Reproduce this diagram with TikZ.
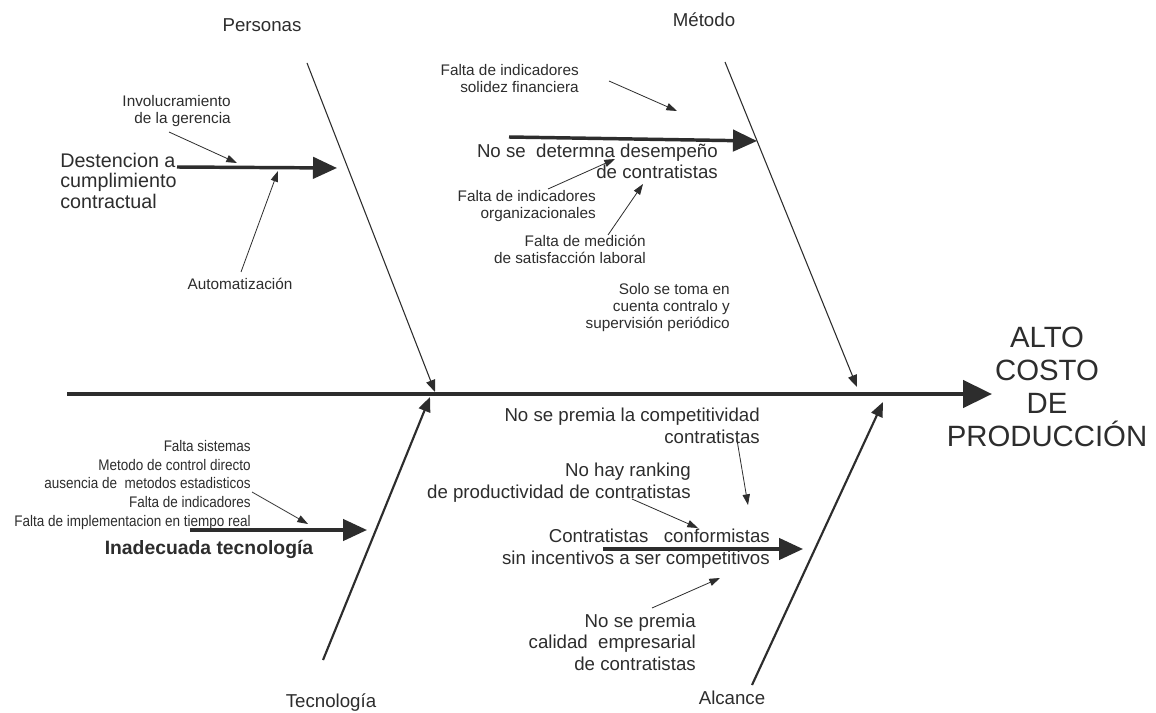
\documentclass[tikz,border=0pt]{standalone}
\usepackage{fontspec}
\setmainfont{Liberation Sans}
\newfontfamily\narrowfont[FakeStretch=0.88]{Liberation Sans}
\usetikzlibrary{arrows.meta}
\definecolor{ink}{RGB}{45,45,45}
\begin{document}
\begin{tikzpicture}[x=0.75pt,y=-0.75pt,
  lbl/.style={text=ink,inner sep=0pt},
  small/.style={lbl,font=\fontsize{11.5}{12.75}\selectfont},
  big/.style={lbl,font=\fontsize{14.8}{15.75}\selectfont},
  mid/.style={lbl,font=\fontsize{14}{16}\selectfont},
  head/.style={lbl,font=\fontsize{14}{16}\selectfont},
  narrowlbl/.style={lbl,font=\narrowfont\fontsize{11.5}{13.9}\selectfont},
  boldlbl/.style={lbl,font=\bfseries\fontsize{14.5}{16}\selectfont},
  titlelbl/.style={lbl,font=\fontsize{22}{24.75}\selectfont},
  rlines/.style={anchor=base east,align=right},
  spine/.style={draw=ink,line width=3.4pt,-{Triangle[length=21.75pt,width=20.25pt]}},
  subbone/.style={draw=ink,line width=2.6pt,-{Triangle[length=18pt,width=16pt]}},
  bonethin/.style={draw=ink,line width=0.8pt,-{Triangle[length=9pt,width=7pt]}},
  bonethick/.style={draw=ink,line width=1.6pt,-{Triangle[length=11pt,width=9pt]}},
  smallarrow/.style={draw=ink,line width=0.6pt,-{Triangle[length=8pt,width=5.5pt]}}
]
\useasboundingbox[fill=white] (0,0) rectangle (1156,713);

% coordinates of the skeleton
\coordinate (spS) at (67,394);   \coordinate (spE) at (992,394);
\coordinate (perA) at (307,63);  \coordinate (perB) at (435,392);
\coordinate (metA) at (725,62);  \coordinate (metB) at (857,387);
\coordinate (tecA) at (323,660); \coordinate (tecB) at (430,397);
\coordinate (alcA) at (752,685); \coordinate (alcB) at (883,402);
\coordinate (p1a) at (177,167);  \coordinate (p1b) at (337,168);
\coordinate (m1a) at (509,137);  \coordinate (m1b) at (757,141);
\coordinate (t1a) at (190,530);  \coordinate (t1b) at (367,530);
\coordinate (a1a) at (603,549);  \coordinate (a1b) at (803,549);
\coordinate (s1a) at (169,132);  \coordinate (s1b) at (237,163);
\coordinate (s2a) at (241,272);  \coordinate (s2b) at (278,171);
\coordinate (s3a) at (609,81);   \coordinate (s3b) at (677,111);
\coordinate (s4a) at (548,189);  \coordinate (s4b) at (615,159);
\coordinate (s5a) at (608,235);  \coordinate (s5b) at (643,184);
\coordinate (s6a) at (252,492);  \coordinate (s6b) at (308,524);
\coordinate (s7a) at (737,440);  \coordinate (s7b) at (748,505);
\coordinate (s8a) at (632,499);  \coordinate (s8b) at (698,528);
\coordinate (s9a) at (652,608);  \coordinate (s9b) at (720,578);

% bones
\draw[spine] (spS) -- (spE);
\draw[bonethin] (perA) -- (perB);
\draw[bonethin] (metA) -- (metB);
\draw[bonethick] (tecA) -- (tecB);
\draw[bonethick] (alcA) -- (alcB);
\draw[subbone] (p1a) -- (p1b);
\draw[subbone] (m1a) -- (m1b);
\draw[subbone] (t1a) -- (t1b);
\draw[subbone] (a1a) -- (a1b);
\foreach \i in {1,...,9} \draw[smallarrow] (s\i a) -- (s\i b);

% labels (base anchors of multi-line nodes sit on the last line)
\node[head,anchor=base] (personas) at (262,32) {Personas};
\node[head,anchor=base] (metodo) at (704,27) {Método};
\node[head,anchor=base] (tecno) at (331,707) {Tecnología};
\node[head,anchor=base] (alcance) at (732,704) {Alcance};

\node[small,rlines] (invol) at (231,124) {Involucramiento\\de la gerencia};
\node[big,anchor=base west,align=left] (dest) at (60,209) {Destencion a\\cumplimiento\\contractual};
\node[small,anchor=base] (auto) at (240,289) {Automatización};

\node[small,rlines] (solidez) at (579,93) {Falta de indicadores\\solidez financiera};
\node[mid,rlines] (desemp) at (718,179) {No se~ determna desempeño\\de contratistas};
\node[small,rlines] (organ) at (596,218) {Falta de indicadores\\organizacionales};
\node[small,rlines] (medic) at (646,263) {Falta de medición\\de satisfacción laboral};
\node[small,rlines] (solo) at (730,328) {Solo se toma en\\cuenta contralo y\\supervisión periódico};

\node[narrowlbl,rlines] (sist) at (251,526) {Falta sistemas\\Metodo de control directo\\ausencia de~ metodos estadisticos\\Falta de indicadores\\Falta de implementacion en tiempo real};
\node[boldlbl,anchor=base] (inad) at (209,554) {Inadecuada tecnología};

\node[mid,rlines] (compet) at (760,443) {No se premia la competitividad\\contratistas};
\node[mid,rlines] (rank) at (691,498) {No hay ranking\\de productividad de contratistas};
\node[mid,rlines] (conf) at (770,564) {Contratistas~~~conformistas\\sin incentivos a ser competitivos};
\node[mid,rlines] (calid) at (696,670) {No se premia\\calidad~ empresarial\\de contratistas};

\node[titlelbl,anchor=base,align=center] (alto) at (1047,446) {ALTO\\COSTO\\DE\\PRODUCCIÓN};
\end{tikzpicture}
\end{document}
